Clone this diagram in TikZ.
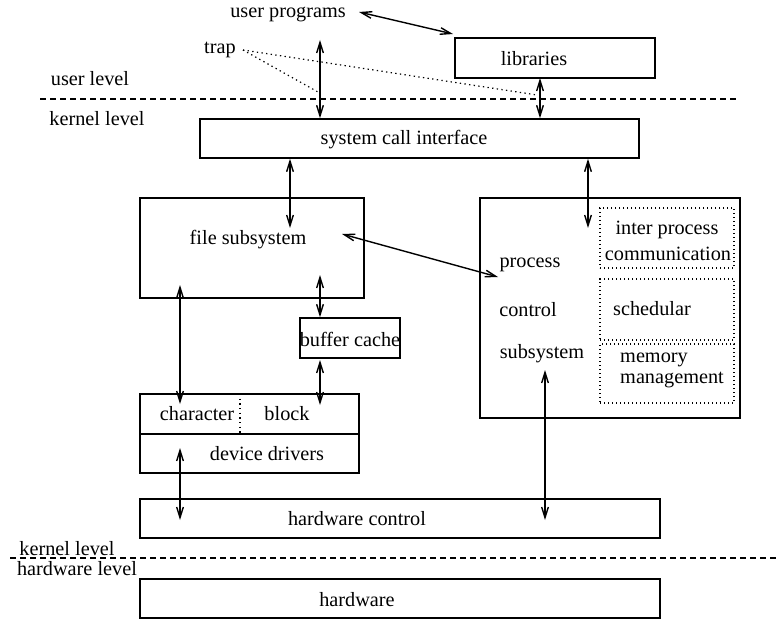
\documentclass[tikz,border=0pt]{standalone}
\usepackage{fontspec}
\setmainfont{Liberation Serif}
\newfontfamily\tmsfont{Liberation Serif}
\usetikzlibrary{arrows.meta}
\begin{document}
\begin{tikzpicture}[x=0.75pt,y=-0.75pt,
  bx/.style={draw,line width=1.1pt,inner sep=0pt},
  dbx/.style={draw,line width=1pt,dash pattern=on 1pt off 2pt,inner sep=0pt},
  lbl/.style={inner sep=0pt,yshift=-1.2pt,font=\tmsfont\fontsize{15.2}{18}\selectfont},
  dar/.style={line width=1.05pt,{Straight Barb[length=8pt,width=5pt]}-{Straight Barb[length=8pt,width=5pt]}},
  lvl/.style={line width=0.9pt,dash pattern=on 4.5pt off 3pt},
  trp/.style={line width=0.9pt,dash pattern=on 1pt off 2.5pt}]
\useasboundingbox (0,0) rectangle (776,635);
% boxes
\node[bx,minimum width=200*0.75pt,minimum height=40*0.75pt] (lib) at (555,58) {};
\node[bx,minimum width=439*0.75pt,minimum height=39*0.75pt] (sci) at (419.5,138.5) {};
\node[bx,minimum width=224*0.75pt,minimum height=100*0.75pt] (fs) at (252,248) {};
\node[bx,minimum width=260*0.75pt,minimum height=220*0.75pt] (pcs) at (610,308) {};
\node[dbx,minimum width=134*0.75pt,minimum height=60*0.75pt] (ipc) at (667,238) {};
\node[dbx,minimum width=134*0.75pt,minimum height=61*0.75pt] (sch) at (667,309.5) {};
\node[dbx,minimum width=134*0.75pt,minimum height=59*0.75pt] (mem) at (667,373.5) {};
\node[bx,minimum width=100*0.75pt,minimum height=40*0.75pt] (bc) at (350,338) {};
\node[bx,minimum width=219*0.75pt,minimum height=79*0.75pt] (dd) at (249.5,433.5) {};
\node[bx,minimum width=520*0.75pt,minimum height=39*0.75pt] (hwc) at (400,518.5) {};
\node[bx,minimum width=520*0.75pt,minimum height=39*0.75pt] (hw) at (400,598.5) {};
\draw[line width=1.1pt] (dd.west |- 0,434) coordinate (ddl) -- (dd.east |- 0,434) coordinate (ddr);
\draw[trp] (240,394) coordinate (cbt) -- (240,434) coordinate (cbb);
% texts
\node[lbl] (up) at (288,13) {user programs};
\node[lbl] (trap) at (220,48) {trap};
\node[lbl] (libt) at (534,57) {libraries};
\node[lbl] (ul) at (90,77) {user level};
\node[lbl] (kl) at (97,117) {kernel level};
\node[lbl] (scit) at (404,138) {system call interface};
\node[lbl] (fst) at (248,238) {file subsystem};
\node[lbl] (p1) at (530,263) {process};
\node[lbl] (p2) at (528,308) {control};
\node[lbl] (p3) at (542,352) {subsystem};
\node[lbl] (ipc1) at (667,228) {inter process};
\node[lbl] (ipc2) at (668,252) {communication};
\node[lbl] (scht) at (652,307) {schedular};
\node[lbl] (mem1) at (654,358) {memory};
\node[lbl] (mem2) at (672,378) {management};
\node[lbl] (bct) at (350,338) {buffer cache};
\node[lbl] (cht) at (197,412) {character};
\node[lbl] (blt) at (287,412) {block};
\node[lbl] (ddt) at (267,452) {device drivers};
\node[lbl] (hwct) at (357,517) {hardware control};
\node[lbl] (kl2) at (67,547) {kernel level};
\node[lbl] (hl) at (77,567) {hardware level};
\node[lbl] (hwt) at (357,598) {hardware};
% level lines
\draw[lvl] (40,99) coordinate (l1a) -- (740,99) coordinate (l1b);
\draw[lvl] (10,558) coordinate (l2a) -- (776,558) coordinate (l2b);
% free-end coordinates
\coordinate (upe) at (359,12);
\coordinate (libn) at (453,34);
\coordinate (tre) at (243,50);
\coordinate (a1) at (320,40);
\coordinate (t1) at (318,92);
\coordinate (t2) at (537,95);
\coordinate (lb) at (540,78);
\coordinate (fsin) at (290,228);
\coordinate (pcin) at (588,228);
\coordinate (fsx) at (342,234);
\coordinate (pcx) at (498,277);
\coordinate (fsb) at (320,275);
\coordinate (bcs) at (320,360);
\coordinate (bk) at (320,405);
\coordinate (fsc) at (180,285);
\coordinate (chs) at (180,404);
\coordinate (pcb) at (545,370);
\coordinate (ddin) at (180,448);
\coordinate (hwin1) at (180,520);
\coordinate (hwin2) at (545,520);
% connectors
\draw[dar] (upe) -- (libn);
\draw[trp] (tre) -- (t1);
\draw[trp] (tre) -- (t2);
\draw[dar] (a1) -- (sci.north -| a1);
\draw[dar] (lb) -- (sci.north -| lb);
\draw[dar] (sci.south -| fsin) -- (fsin);
\draw[dar] (sci.south -| pcin) -- (pcin);
\draw[dar] (fsx) -- (pcx);
\draw[dar] (fsb) -- (bc.north -| fsb);
\draw[dar] (bcs) -- (bk);
\draw[dar] (fsc) -- (chs);
\draw[dar] (ddin) -- (hwin1);
\draw[dar] (pcb) -- (hwin2);
\end{tikzpicture}
\end{document}
